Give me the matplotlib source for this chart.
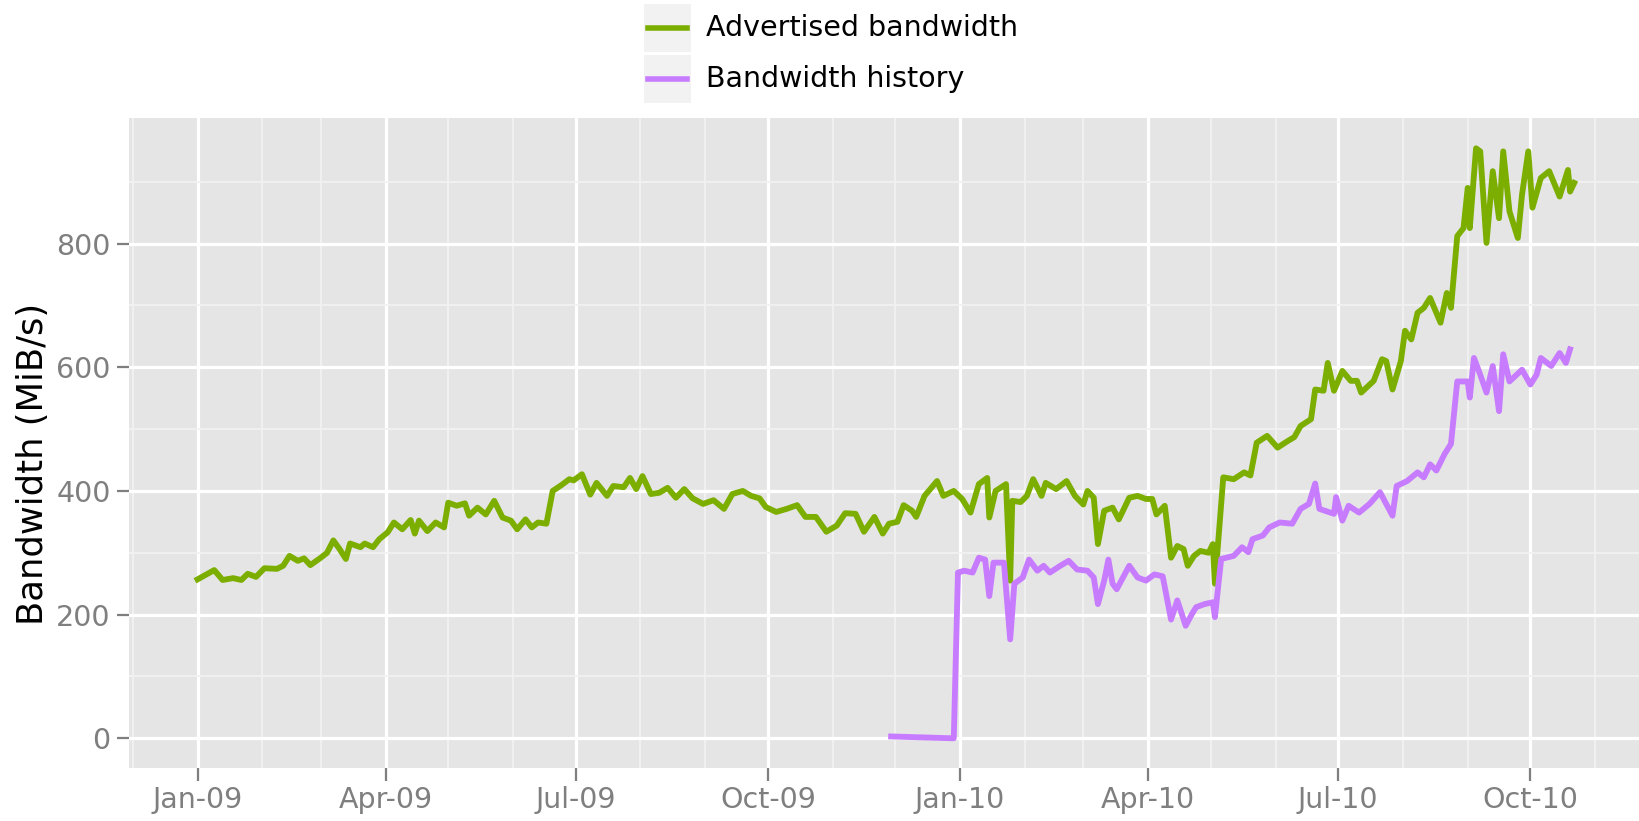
# -*- coding: utf-8 -*-
"""
Advertised bandwidth vs bandwidth history, ggplot-like look
"""
import numpy as np
import matplotlib
matplotlib.use("Agg")
import matplotlib.pyplot as plt
import matplotlib.dates as mdates
from matplotlib.patches import Rectangle
from matplotlib.lines import Line2D

plt.rcParams["font.family"] = ["DejaVu Sans"]

# days since 2009-01-01, values in MiB/s
adv_days = [0, 8, 12, 17, 21, 24, 28, 32, 38, 41, 44, 48, 51, 54, 59, 62, 65, 68,
            71, 73, 78, 80, 84, 87, 91, 94, 98, 102, 104, 106, 110, 114, 118, 120,
            124, 128, 130, 134, 138, 142, 146, 150, 153, 157, 160, 163, 167, 170,
            174, 178, 180, 184, 188, 191, 196, 199, 204, 207, 210, 213, 217, 221,
            225, 229, 233, 237, 242, 247, 252, 256, 261, 265, 269, 272, 277, 282,
            287, 291, 296, 301, 306, 310, 315, 319, 324, 328, 331, 335, 338, 342,
            344, 348, 354, 357, 362, 366, 370, 374, 378, 379, 382, 387, 389, 390,
            394, 397, 400, 404, 406, 411, 416, 420, 424, 426, 429, 431, 434, 438,
            441, 446, 450, 454, 457, 459, 463, 466, 469, 472, 474, 477, 480, 484,
            486, 487, 491, 496, 501, 504, 507, 512, 517, 522, 525, 528, 533, 535,
            539, 541, 544, 548, 552, 555, 557, 563, 567, 569, 572, 576, 578, 581,
            584, 587, 590, 592, 595, 598, 600, 603, 606, 608, 609, 612, 614, 617,
            620, 623, 625, 628, 632, 634, 637, 639, 643, 647, 652, 656, 657, 659]
adv_vals = [257, 272, 256, 259, 256, 266, 261, 275, 274, 279, 295, 287, 291, 280, 292,
            300, 320, 306, 290, 315, 309, 315, 309, 322, 333, 349, 338, 353, 331, 352,
            335, 349, 341, 381, 376, 380, 360, 373, 362, 384, 357, 352, 338, 354, 341,
            349, 347, 400, 409, 419, 417, 427, 394, 413, 392, 408, 406, 421, 403, 424,
            395, 397, 405, 389, 403, 388, 379, 385, 371, 395, 400, 392, 388, 374, 366,
            371, 377, 358, 358, 334, 344, 364, 363, 334, 358, 331, 347, 350, 377, 368,
            358, 392, 416, 392, 400, 387, 365, 411, 421, 357, 400, 411, 255, 384, 382,
            392, 419, 392, 413, 403, 416, 392, 378, 400, 389, 314, 368, 373, 354, 389,
            392, 387, 387, 362, 376, 292, 311, 306, 279, 295, 303, 300, 314, 250, 422,
            419, 430, 425, 478, 489, 470, 481, 487, 505, 516, 564, 562, 607, 562, 594,
            578, 578, 559, 578, 613, 610, 564, 610, 659, 645, 688, 696, 712, 696, 672,
            720, 696, 812, 825, 890, 825, 954, 949, 801, 917, 841, 949, 852, 809, 879,
            949, 858, 906, 917, 876, 919, 884, 898]

hist_days = [332, 362, 364, 367, 371, 374, 377, 379, 381, 386, 389, 391, 395, 398,
             402, 405, 408, 413, 417, 421, 426, 429, 431, 434, 436, 438, 440, 446,
             450, 454, 458, 462, 466, 469, 473, 476, 478, 482, 486, 487, 490, 496,
             500, 503, 505, 510, 513, 518, 524, 528, 532, 535, 537, 544, 545, 548,
             551, 556, 561, 566, 572, 574, 579, 584, 587, 590, 593, 597, 600, 603,
             608, 609, 611, 614, 617, 620, 623, 625, 628, 634, 638, 641, 643, 648,
             652, 655, 657]
hist_vals = [3, 0, 268, 271, 268, 292, 289, 230, 284, 284, 160, 250, 260, 289, 271,
             279, 268, 279, 287, 273, 271, 260, 217, 255, 289, 250, 241, 279, 260, 255,
             265, 262, 192, 223, 182, 201, 212, 217, 220, 196, 290, 295, 309, 301, 322,
             328, 341, 349, 347, 371, 379, 412, 371, 363, 390, 352, 376, 365, 379, 398,
             360, 408, 416, 430, 422, 443, 433, 460, 476, 577, 577, 551, 615, 588, 559,
             602, 529, 621, 577, 596, 572, 588, 615, 602, 623, 607, 629]

series_names = ["Advertised bandwidth", "Bandwidth history"]
series_colors = ["#7CAE00", "#C77CFF"]

x_ticks = ["2009-01-01", "2009-04-01", "2009-07-01", "2009-10-01",
           "2010-01-01", "2010-04-01", "2010-07-01", "2010-10-01"]
x_labels = ["Jan-09", "Apr-09", "Jul-09", "Oct-09",
            "Jan-10", "Apr-10", "Jul-10", "Oct-10"]
y_ticks = [0, 200, 400, 600, 800]

start = np.datetime64("2009-01-01")
adv_dates = start + np.array(adv_days).astype("timedelta64[D]")
hist_dates = start + np.array(hist_days).astype("timedelta64[D]")

W, H = 1639, 821
fig = plt.figure(figsize=(W/100, H/100), dpi=100)
ax = fig.add_axes([128.6/W, 1 - 768/H, 1 - 128.6/W, (768 - 118)/H])
ax.set_facecolor("#E5E5E5")
for s in ax.spines.values():
    s.set_visible(False)

ax.plot(adv_dates, adv_vals, color=series_colors[0], lw=4.2,
        solid_joinstyle="round", zorder=3)
ax.plot(hist_dates, hist_vals, color=series_colors[1], lw=4.2,
        solid_joinstyle="round", zorder=3)

ax.set_xlim(np.datetime64("2008-11-29"), np.datetime64("2010-11-22"))
ax.set_ylim(-48, 1003)

ax.set_xticks(np.array(x_ticks, dtype="datetime64[D]"))
ax.set_xticklabels(x_labels)
ax.xaxis.set_minor_locator(mdates.MonthLocator())
ax.set_yticks(y_ticks)
ax.set_yticks([100, 300, 500, 700, 900], minor=True)

ax.grid(which="major", color="white", lw=2.3)
ax.grid(which="minor", color="#F2F2F2", lw=1.3)
ax.set_axisbelow(True)

ax.tick_params(which="major", length=9, width=1.6, color="#7F7F7F",
               labelcolor="#7F7F7F", labelsize=20.5)
ax.tick_params(axis="x", pad=4)
ax.tick_params(axis="y", pad=4)
ax.tick_params(which="minor", length=0)

fig.text(33/W, 1 - 464/H, "Bandwidth (MiB/s)", rotation=90, fontsize=25.5,
         ha="center", va="center", color="black")

# legend on top, drawn by hand like ggplot keys
key_tops = [4, 55]
for i in range(2):
    top = key_tops[i]
    fig.add_artist(Rectangle((644/W, 1 - (top + 48)/H), 47/W, 48/H,
                             transform=fig.transFigure, facecolor="#F2F2F2",
                             edgecolor="none"))
    yc = 1 - (top + 24)/H
    fig.add_artist(Line2D([648/W, 687/W], [yc, yc], transform=fig.transFigure,
                          color=series_colors[i], lw=4.0))
    fig.text(706/W, yc, series_names[i], fontsize=20.5, ha="left", va="center")

fig.savefig("out.png", dpi=100)
